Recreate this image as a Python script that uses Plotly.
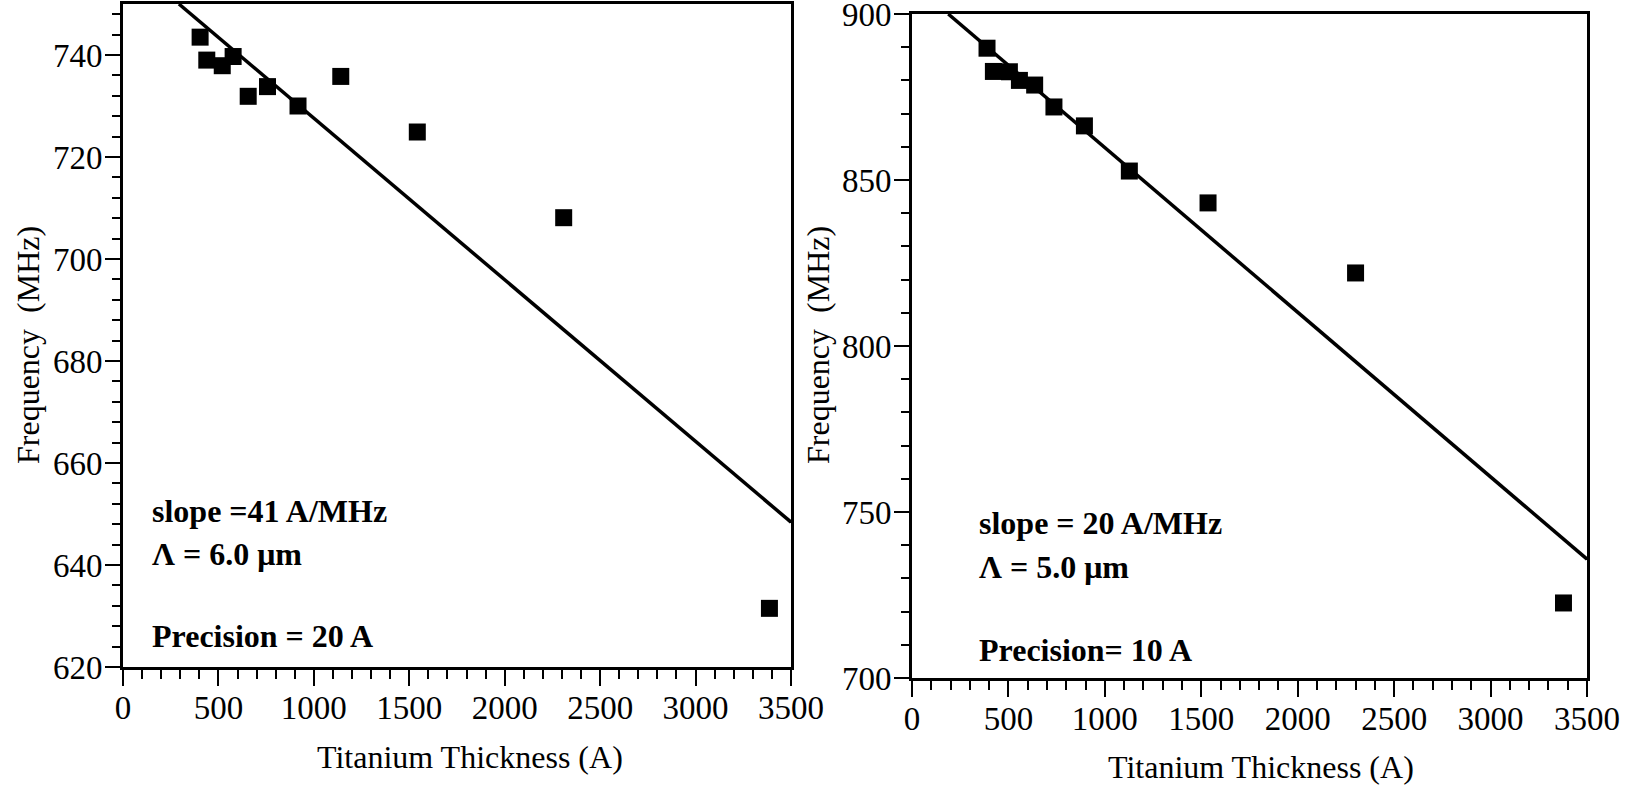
import plotly.graph_objects as go

# Left panel: Lambda = 6.0 um
left_thickness = [404, 439, 520, 577, 656, 757, 917, 1141, 1542, 2309, 3387]
left_freq = [743.5, 739.0, 737.9, 739.7, 731.9, 733.8, 730.0, 735.8, 724.9, 708.1, 631.5]
left_fit_x = [293, 3500]
left_fit_y = [750.0, 648.4]

# Right panel: Lambda = 5.0 um
right_thickness = [389, 422, 505, 557, 636, 736, 894, 1127, 1535, 2300, 3378]
right_freq = [889.7, 882.7, 882.6, 880.0, 878.6, 872.0, 866.3, 852.7, 843.1, 822.0, 722.6]
right_fit_x = [188, 3500]
right_fit_y = [900.0, 735.8]

left_notes = ["slope =41 A/MHz", "Λ = 6.0 μm", "Precision = 20 A"]
left_note_y = [650.6, 642.2, 626.0]
right_notes = ["slope = 20 A/MHz", "Λ = 5.0 μm", "Precision= 10 A"]
right_note_y = [746.7, 733.4, 708.4]

FONT = "Liberation Serif, Times New Roman, serif"
W, H = 1631, 785

fig = go.Figure()

for xs, ys, fx, fy, xa, ya in [
    (left_thickness, left_freq, left_fit_x, left_fit_y, "x", "y"),
    (right_thickness, right_freq, right_fit_x, right_fit_y, "x2", "y2"),
]:
    fig.add_trace(go.Scatter(x=fx, y=fy, mode="lines", xaxis=xa, yaxis=ya,
                             line=dict(color="black", width=3.5), showlegend=False))
    fig.add_trace(go.Scatter(x=xs, y=ys, mode="markers", xaxis=xa, yaxis=ya,
                             marker=dict(symbol="square", size=17, color="black"),
                             showlegend=False))

axis_common = dict(
    showline=True, linecolor="black", linewidth=3, mirror=True,
    showgrid=False, zeroline=False, automargin=False,
    ticks="outside", tickcolor="black", tickwidth=2,
    ticklabeloverflow="allow",
    tickfont=dict(family=FONT, size=33, color="black"),
)

def px_x(p):
    return p / W

def px_y(p):
    return 1 - p / H

minor_x = dict(dtick=100, ticklen=9, ticks="outside", tickcolor="black", tickwidth=2)

fig.update_layout(
    width=W, height=H,
    margin=dict(l=0, r=0, t=0, b=0, autoexpand=False),
    paper_bgcolor="white", plot_bgcolor="white",
    xaxis=dict(domain=[px_x(123), px_x(791)], range=[0, 3500], dtick=500, tick0=0,
               ticklen=16, ticklabelstandoff=-7, minor=minor_x,
               anchor="y", **axis_common),
    yaxis=dict(domain=[px_y(667), px_y(4)], range=[620, 750], dtick=20, tick0=0,
               ticklen=15, ticklabelstandoff=-4,
               minor=dict(dtick=4, ticklen=8, ticks="outside", tickcolor="black", tickwidth=2),
               anchor="x", **axis_common),
    xaxis2=dict(domain=[px_x(912), px_x(1587)], range=[0, 3500], dtick=500, tick0=0,
                ticklen=16, ticklabelstandoff=-7, minor=minor_x,
                anchor="y2", **axis_common),
    yaxis2=dict(domain=[px_y(678), px_y(14)], range=[700, 900], dtick=50, tick0=0,
                ticklen=15, ticklabelstandoff=-4,
                minor=dict(dtick=10, ticklen=8, ticks="outside", tickcolor="black", tickwidth=2),
                anchor="x2", **axis_common),
)

annotations = []
for txt, yv in zip(left_notes, left_note_y):
    annotations.append(dict(x=141, y=yv, xref="x", yref="y", text=txt, showarrow=False,
                            xanchor="left", yanchor="middle",
                            font=dict(family=FONT, size=32, color="black", weight="bold")))
for txt, yv in zip(right_notes, right_note_y):
    annotations.append(dict(x=337, y=yv, xref="x2", yref="y2", text=txt, showarrow=False,
                            xanchor="left", yanchor="middle",
                            font=dict(family=FONT, size=32, color="black", weight="bold")))

title_font = dict(family=FONT, size=32, color="black")
for xc in (28, 818):
    annotations.append(dict(x=px_x(xc), y=px_y(345), xref="paper", yref="paper",
                            text="Frequency  (MHz)", textangle=-90, showarrow=False,
                            xanchor="center", yanchor="middle", font=title_font))
for xc, yc in ((470, 757), (1261, 767)):
    annotations.append(dict(x=px_x(xc), y=px_y(yc), xref="paper", yref="paper",
                            text="Titanium Thickness (A)", showarrow=False,
                            xanchor="center", yanchor="middle", font=title_font))

fig.update_layout(annotations=annotations)

fig.write_html("out.html")
